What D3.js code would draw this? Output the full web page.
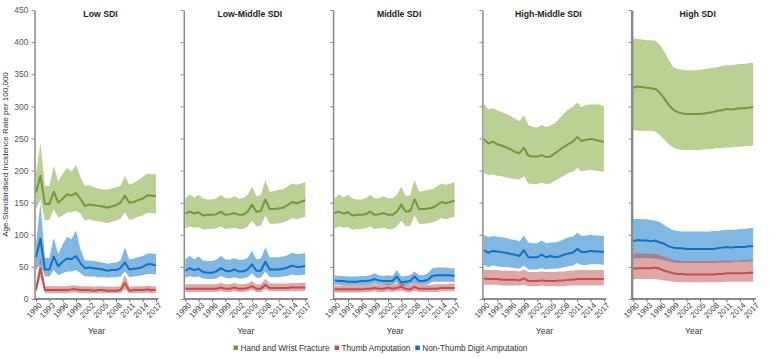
<!DOCTYPE html>
<html>
<head>
<meta charset="utf-8">
<script src="https://cdn.jsdelivr.net/npm/d3@7"></script>
<style>
  body { margin: 0; background: #fff; }
  svg { display: block; font-family: "Liberation Sans", Arial, sans-serif; }
</style>
</head>
<body>
<div id="chart"></div>
<script>
var years = [1990,1991,1992,1993,1994,1995,1996,1997,1998,1999,2000,2001,2002,2003,2004,2005,2006,2007,2008,2009,2010,2011,2012,2013,2014,2015,2016,2017]
var yearTicks = [1990,1993,1996,1999,2002,2005,2008,2011,2014,2017]
var valueTicks = [0,50,100,150,200,250,300,350,400,450]
var panelNames = ["Low SDI", "Low-Middle SDI", "Middle SDI", "High-Middle SDI", "High SDI"]
var seriesNames = ["Hand and Wrist Fracture", "Thumb Amputation", "Non-Thumb Digit Amputation"]

// Low SDI
var lowFracture   = [166,192,148,148,167,150,156,163,161,165,156,145,147,146,145,144,142,144,146,150,161,150,151,154,156,161,161,160]
var lowFractureHi = [195,243,176,176,207,183,195,204,198,209,190,176,177,174,172,171,170,172,174,176,192,178,181,185,190,195,195,194]
var lowFractureLo = [140,155,123,123,140,127,130,135,135,137,133,122,124,122,121,120,118,120,122,125,135,123,125,128,130,134,134,133]
var lowThumb      = [14,48,14,14,14,14,14,14,15,15,14,14,14,13,14,14,13,13,13,14,25,13,14,14,14,15,14,14]
var lowThumbHi    = [20,65,20,20,20,20,20,20,21,21,20,20,20,19,20,20,19,19,19,20,38,19,20,20,20,21,20,20]
var lowThumbLo    = [9,35,9,9,9,9,9,9,10,10,9,9,9,9,9,9,9,9,9,9,15,9,9,9,9,10,9,9]
var lowDigit      = [65,94,46,46,66,51,58,63,62,67,56,48,49,48,47,46,44,45,45,48,57,46,47,48,50,54,54,52]
var lowDigitHi    = [85,150,64,64,95,70,85,97,93,107,78,60,60,59,58,57,55,56,57,60,80,61,63,65,67,71,71,70]
var lowDigitLo    = [45,55,35,35,45,37,40,43,43,45,40,35,35,35,34,34,33,34,34,35,43,34,35,36,37,39,39,38]

// Low-Middle SDI
var lmFracture   = [133,136,133,135,130,131,131,132,136,131,132,134,131,131,136,147,136,137,155,140,140,141,142,146,151,149,151,154]
var lmFractureHi = [157,163,158,162,157,155,155,157,162,157,157,160,157,157,162,175,160,162,185,167,168,170,171,175,180,178,180,182]
var lmFractureLo = [110,113,111,112,108,109,109,110,113,109,110,111,109,109,113,122,113,114,130,117,117,118,119,122,126,124,126,128]
var lmThumb      = [16,16,16,16,16,16,16,16,18,16,16,18,16,16,17,20,16,16,22,17,17,17,17,17,18,18,18,18]
var lmThumbHi    = [23,23,23,23,23,23,23,23,25,23,23,25,23,23,24,28,23,23,31,24,24,24,24,24,25,25,25,26]
var lmThumbLo    = [11,11,11,11,11,11,11,11,12,11,11,12,11,11,12,14,11,11,15,12,12,12,12,12,12,12,12,13]
var lmDigit      = [44,48,45,47,42,41,41,43,48,44,43,46,43,43,46,54,44,44,58,46,46,46,47,49,52,50,50,52]
var lmDigitHi    = [62,67,62,66,60,59,59,61,67,62,61,64,61,61,64,75,62,63,80,65,65,65,66,68,72,70,70,72]
var lmDigitLo    = [33,36,34,35,32,31,31,32,36,33,32,34,32,32,34,40,33,33,43,34,34,34,35,36,38,37,37,38]

// Middle SDI
var midFracture   = [134,136,133,135,130,131,131,132,136,131,132,134,131,131,136,147,136,137,155,140,140,141,142,146,151,149,151,153]
var midFractureHi = [157,163,158,162,157,155,155,157,162,157,157,160,157,157,162,175,160,162,185,167,168,170,171,175,180,178,180,182]
var midFractureLo = [110,113,111,112,108,109,109,110,113,109,110,111,109,109,113,122,113,114,130,117,117,118,119,122,126,124,126,128]
var midThumb      = [15,15,15,15,15,15,15,16,16,17,16,16,18,16,17,19,16,15,19,16,16,16,16,16,17,17,17,17]
var midThumbHi    = [21,21,21,21,21,21,21,22,22,23,22,22,25,22,24,27,22,21,27,22,22,22,22,23,23,23,24,24]
var midThumbLo    = [10,10,10,10,10,10,10,11,11,12,11,11,12,11,12,13,11,10,13,11,11,11,11,11,12,12,12,12]
var midDigit      = [29,28,28,27,27,27,28,28,29,31,29,28,28,28,35,26,27,28,35,28,28,30,36,37,37,37,37,36]
var midDigitHi    = [37,36,36,35,35,35,36,36,37,40,37,36,37,36,45,35,36,37,43,37,37,40,48,49,49,49,48,48]
var midDigitLo    = [22,22,21,21,21,21,21,22,22,24,22,22,22,22,26,20,21,22,26,22,22,23,27,27,27,27,27,26]

// High-Middle SDI
var hmFracture   = [249,242,245,241,239,236,233,229,227,236,223,222,222,224,221,222,227,232,237,241,245,252,246,248,249,248,246,245]
var hmFractureHi = [304,295,297,294,291,288,285,281,277,286,271,268,267,271,268,270,274,281,289,295,299,306,299,302,303,303,303,300]
var hmFractureLo = [196,193,194,192,191,189,188,187,186,191,180,179,179,181,179,180,184,188,192,196,198,204,199,200,201,200,199,198]
var hmThumb      = [32,31,31,31,30,30,30,30,29,32,28,28,28,29,28,28,28,29,29,30,30,31,31,31,31,31,31,31]
var hmThumbHi    = [46,45,45,45,44,44,44,44,43,46,42,42,42,43,42,42,42,43,43,44,44,45,45,45,45,45,45,45]
var hmThumbLo    = [22,22,22,22,21,21,21,21,21,22,20,20,20,21,20,20,20,20,20,21,21,21,21,21,21,21,21,21]
var hmDigit      = [76,72,75,74,73,72,70,69,67,76,65,65,65,69,65,67,65,66,69,71,72,78,73,73,75,74,74,73]
var hmDigitHi    = [100,96,98,97,96,95,93,92,90,99,88,87,87,91,87,88,88,90,93,96,97,103,98,99,100,99,99,98]
var hmDigitLo    = [53,50,52,51,50,50,49,48,47,52,46,46,46,48,46,47,47,48,49,51,52,56,53,53,54,54,54,53]

// High SDI
var hiFracture   = [329,331,330,329,328,327,321,312,302,295,291,289,288,288,288,288,289,290,291,293,294,296,295,296,297,297,298,299]
var hiFractureHi = [406,405,404,403,403,402,396,385,372,361,358,357,356,356,356,357,358,359,360,361,363,364,364,365,366,366,367,368]
var hiFractureLo = [263,262,262,262,262,261,255,248,241,236,233,232,232,232,232,232,233,233,234,235,235,236,236,237,237,238,238,239]
var hiThumb      = [47,48,48,48,48,49,47,44,42,40,39,39,38,38,38,38,38,38,38,39,39,40,40,40,40,40,41,41]
var hiThumbHi    = [70,71,71,71,70,70,68,66,63,61,60,59,59,59,59,59,59,59,59,59,60,60,60,60,60,61,61,61]
var hiThumbLo    = [31,31,31,31,31,31,30,29,28,27,26,26,26,26,26,26,26,26,26,26,26,27,27,27,27,27,27,27]
var hiDigit      = [90,92,91,91,90,91,88,86,82,80,79,79,78,78,78,78,78,78,78,79,80,81,80,81,81,81,82,82]
var hiDigitHi    = [124,125,124,124,123,122,120,115,111,107,106,105,105,105,105,105,105,105,106,106,107,108,108,108,109,109,110,111]
var hiDigitLo    = [63,64,64,64,63,63,62,60,59,57,56,56,56,56,56,56,56,56,56,57,57,57,57,58,58,58,58,59]

// table built from the arrays above
var panels = [
  [[lowFracture, lowFractureLo, lowFractureHi], [lowThumb, lowThumbLo, lowThumbHi], [lowDigit, lowDigitLo, lowDigitHi]],
  [[lmFracture, lmFractureLo, lmFractureHi], [lmThumb, lmThumbLo, lmThumbHi], [lmDigit, lmDigitLo, lmDigitHi]],
  [[midFracture, midFractureLo, midFractureHi], [midThumb, midThumbLo, midThumbHi], [midDigit, midDigitLo, midDigitHi]],
  [[hmFracture, hmFractureLo, hmFractureHi], [hmThumb, hmThumbLo, hmThumbHi], [hmDigit, hmDigitLo, hmDigitHi]],
  [[hiFracture, hiFractureLo, hiFractureHi], [hiThumb, hiThumbLo, hiThumbHi], [hiDigit, hiDigitLo, hiDigitHi]]
].map(function(p, i) {
  return {
    name: panelNames[i],
    series: p.map(function(s, j) {
      return {
        key: seriesNames[j],
        rows: years.map(function(yr, k) { return {year: yr, mean: s[0][k], lo: s[1][k], hi: s[2][k]} })
      }
    })
  }
})

var lineColors = ["#76963a", "#c0504d", "#1070c2"]
var bandColors = ["#8cb04c", "#c0504d", "#1a7ccc"]
var bandOpacity = [0.6, 0.5, 0.55]
var drawOrder = [0, 2, 1]   // fracture, digit, thumb on top

var width = 780, height = 359
var plotTop = 10, plotBottom = 299
var firstAxis = 34.5, panelStep = 149.3

var svg = d3.select('#chart').append('svg')
  .attr('width', width)
  .attr('height', height)

var y = d3.scaleLinear().domain([0, 450]).range([plotBottom, plotTop])

// y-axis title
svg.append('text')
  .attr('transform', 'translate(7.5,' + ((plotTop + plotBottom) / 2) + ') rotate(-90)')
  .attr('text-anchor', 'middle')
  .attr('font-size', 8)
  .attr('fill', '#333')
  .text('Age-Standardised Incidence Rate per 100,000')

panels.forEach(function(panel, i) {
  var left = firstAxis + i * panelStep
  var x = d3.scaleLinear().domain([1990, 2017]).range([left + 1.5, left + 121.5])
  var g = svg.append('g')

  // bands
  drawOrder.forEach(function(j) {
    var area = d3.area()
      .x(function(d) { return x(d.year) })
      .y0(function(d) { return y(d.lo) })
      .y1(function(d) { return y(d.hi) })
    g.append('path')
      .datum(panel.series[j].rows)
      .attr('d', area)
      .attr('fill', bandColors[j])
      .attr('fill-opacity', bandOpacity[j])
  })

  // mean lines
  drawOrder.forEach(function(j) {
    var line = d3.line()
      .x(function(d) { return x(d.year) })
      .y(function(d) { return y(d.mean) })
    g.append('path')
      .datum(panel.series[j].rows)
      .attr('d', line)
      .attr('fill', 'none')
      .attr('stroke', lineColors[j])
      .attr('stroke-width', 2)
      .attr('stroke-linejoin', 'round')
  })

  // y axis
  var yAxis = d3.axisLeft(y).tickValues(valueTicks).tickSize(3).tickSizeOuter(0)
  if (i > 0) yAxis.tickFormat('')
  var ya = g.append('g')
    .attr('transform', 'translate(' + left + ',0)')
    .call(yAxis)
  ya.select('.domain').attr('stroke', '#8a8a8a').attr('stroke-width', i == 4 ? 2.5 : 1.5)
  ya.selectAll('.tick line').attr('stroke', '#8a8a8a')
  ya.selectAll('.tick text')
    .attr('font-size', 8.5)
    .attr('fill', '#555')
    .attr('font-family', '"Liberation Sans", Arial, sans-serif')

  // x axis
  var xa = g.append('g')
    .attr('transform', 'translate(0,' + plotBottom + ')')
    .call(d3.axisBottom(x).tickValues(yearTicks).tickSize(3).tickSizeOuter(0).tickFormat(d3.format('d')))
  xa.select('.domain').remove()
  xa.selectAll('.tick line').attr('stroke', '#777')
  xa.selectAll('.tick text')
    .attr('font-size', 8)
    .attr('fill', '#444')
    .attr('font-family', '"Liberation Sans", Arial, sans-serif')
    .attr('text-anchor', 'end')
    .attr('transform', 'translate(3,4) rotate(-45)')
    .attr('y', 0)
    .attr('x', 0)
    .attr('dy', '0.5em')
  g.append('line')
    .attr('x1', left).attr('x2', left + 124)
    .attr('y1', plotBottom).attr('y2', plotBottom)
    .attr('stroke', '#666')
    .attr('stroke-width', 1.5)

  // titles
  g.append('text')
    .attr('x', left + 66)
    .attr('y', 17)
    .attr('text-anchor', 'middle')
    .attr('font-size', 8.7)
    .attr('font-weight', 'bold')
    .attr('fill', '#222')
    .text(panel.name)

  g.append('text')
    .attr('x', left + 62)
    .attr('y', 334)
    .attr('text-anchor', 'middle')
    .attr('font-size', 8.5)
    .attr('fill', '#333')
    .text('Year')
})

// legend
var legend = svg.append('g').attr('transform', 'translate(233.5,348)')
var lx = 0
seriesNames.forEach(function(name, j) {
  legend.append('rect')
    .attr('x', lx).attr('y', -2.5)
    .attr('width', 4.5).attr('height', 4.5)
    .attr('fill', lineColors[j])
  var t = legend.append('text')
    .attr('x', lx + 7)
    .attr('y', 3)
    .attr('font-size', 8.2)
    .attr('fill', '#333')
    .text(name)
  lx += 7 + t.node().getComputedTextLength() + 5
})
</script>
</body>
</html>
